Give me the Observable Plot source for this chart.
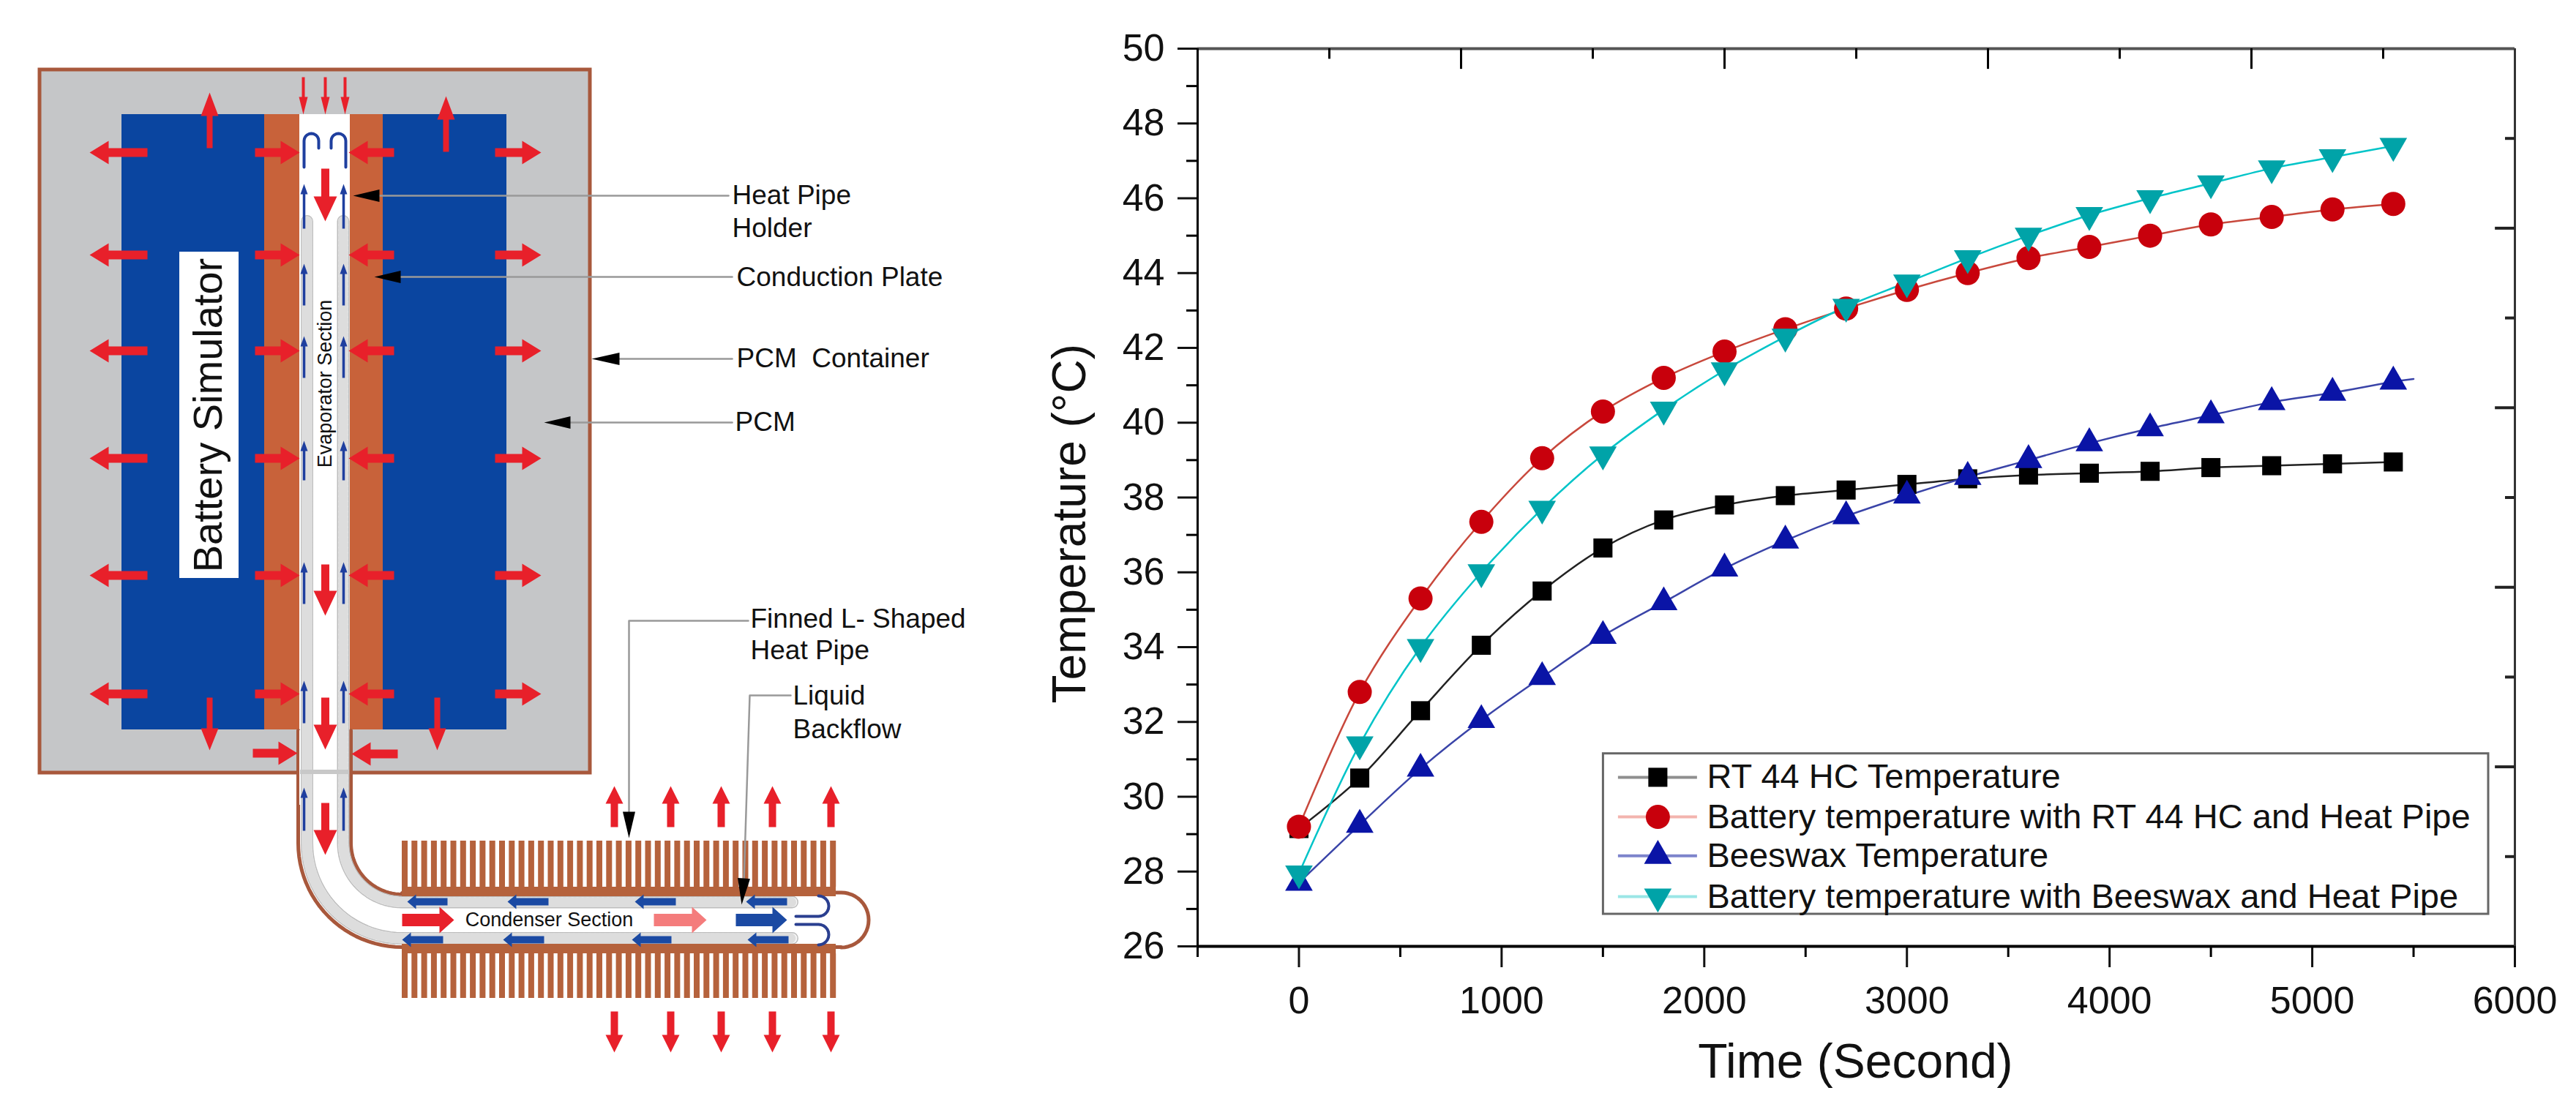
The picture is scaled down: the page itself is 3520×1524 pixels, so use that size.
<!DOCTYPE html>
<html>
<head>
<meta charset="utf-8">
<script src="https://cdn.jsdelivr.net/npm/d3@7"></script>
<script src="https://cdn.jsdelivr.net/npm/@observablehq/plot@0.6"></script>
<style>
html,body{margin:0;padding:0;background:#fff;width:3520px;height:1524px;overflow:hidden}
#page{position:relative;width:3520px;height:1524px}
#page svg{position:absolute;top:0;overflow:visible}
</style>
</head>
<body>
<div id="page"></div>
<script>
// ---------- chart data ----------
const timeSeconds = [0,300,600,900,1200,1500,1800,2100,2400,2700,3000,3300,3600,3900,4200,4500,4800,5100,5400];
const rtTemp      = [29.15,30.5,32.3,34.05,35.5,36.65,37.4,37.8,38.05,38.2,38.35,38.5,38.6,38.65,38.7,38.8,38.85,38.9,38.95];
const rtBattery   = [29.2,32.8,35.3,37.35,39.05,40.3,41.2,41.9,42.5,43.05,43.55,44.0,44.4,44.7,45.0,45.3,45.5,45.7,45.85];
const waxTemp     = [27.7,29.25,30.75,32.05,33.2,34.3,35.2,36.1,36.85,37.5,38.05,38.55,39.0,39.45,39.85,40.2,40.55,40.8,41.1];
const waxBattery  = [27.95,31.4,34.0,36.0,37.7,39.15,40.35,41.4,42.3,43.1,43.75,44.4,45.0,45.55,46.0,46.4,46.8,47.1,47.4];
const waxTailTime = [5400,5500];
const waxTailTemp = [41.1,41.17];
const seriesNames = ["RT 44 HC Temperature","Battery temperature with RT 44 HC and Heat Pipe","Beeswax Temperature","Battery temperature with Beeswax and Heat Pipe"];
const xMajorTicks = [0,1000,2000,3000,4000,5000,6000];
const xMinorTicks = [-500,500,1500,2500,3500,4500,5500];
const yMajorTicks = [26,28,30,32,34,36,38,40,42,44,46,48,50];
const yMinorTicks = [27,29,31,33,35,37,39,41,43,45,47,49];
const topMajorTicks = [800,2100,3400,4700];
const topMinorTicks = [150,1450,2750,4050,5350];
const rightMajorTicks = [45.2,40.4,35.6,30.8];
const rightMinorTicks = [47.6,42.8,38,33.2,28.4];

const FONT = "Liberation Sans, Arial, sans-serif";
const triangleDown = {draw(c,size){const y=-Math.sqrt(size/(Math.sqrt(3)*3));c.moveTo(0,-y*2);c.lineTo(-Math.sqrt(3)*y,y);c.lineTo(Math.sqrt(3)*y,y);c.closePath();}};
const styles = [
  {v:rtTemp,     line:"#222222", key:"#8f8f8f", fill:"#000000", symbol:"square",   r:14.7, ly:30.52},
  {v:rtBattery,  line:"#c8483c", key:"#f3b4ae", fill:"#c8000c", symbol:"circle",   r:16.5, ly:29.46},
  {v:waxTemp,    line:"#3a44a8", key:"#7d84cc", fill:"#0a14a6", symbol:"triangle", r:14,   ly:28.42},
  {v:waxBattery, line:"#00c4c8", key:"#9be6e6", fill:"#00a3a8", symbol:triangleDown, r:14, ly:27.33}
];
const tableOf = s => timeSeconds.map((t,i)=>({t,temp:s.v[i]}));
const waxTail = waxTailTime.map((t,i)=>({t,temp:waxTailTemp[i]}));

const chart = Plot.plot({
  width:2120, height:1524,
  marginLeft:236, marginRight:84, marginTop:66, marginBottom:231,
  style:{background:"transparent",fontFamily:FONT},
  x:{domain:[-500,6000]},
  y:{domain:[26,50]},
  marks:[
    Plot.axisX({ticks:xMajorTicks,tickSize:29,tickPadding:26,fontSize:52,label:null,fontFamily:FONT,strokeWidth:3,color:"#111",tickFormat:d=>String(d)}),
    Plot.axisX({ticks:xMinorTicks,tickSize:15,tickFormat:()=>"",label:null,strokeWidth:3}),
    Plot.axisY({ticks:yMajorTicks,tickSize:27,tickPadding:18,fontSize:52,label:null,fontFamily:FONT,strokeWidth:3,color:"#111",tickFormat:d=>String(d)}),
    Plot.axisY({ticks:yMinorTicks,tickSize:15,tickFormat:()=>"",label:null,strokeWidth:3}),
    Plot.ruleY([50],{stroke:"#555",strokeWidth:4}),
    Plot.ruleY([26],{stroke:"#000",strokeWidth:4}),
    Plot.ruleX([-500],{stroke:"#000",strokeWidth:3}),
    Plot.ruleX([6000],{stroke:"#333",strokeWidth:3}),
    Plot.ruleX(topMajorTicks,{y1:50,y2:49.45,stroke:"#000",strokeWidth:3}),
    Plot.ruleX(topMinorTicks,{y1:50,y2:49.72,stroke:"#000",strokeWidth:3}),
    Plot.ruleY(rightMajorTicks,{x1:6000,x2:5903,stroke:"#222",strokeWidth:4}),
    Plot.ruleY(rightMinorTicks,{x1:6000,x2:5953,stroke:"#222",strokeWidth:4}),
    ...styles.map(s=>Plot.line(tableOf(s),{x:"t",y:"temp",stroke:s.line,strokeWidth:2.5,curve:"catmull-rom"})),
    Plot.line(waxTail,{x:"t",y:"temp",stroke:styles[2].line,strokeWidth:2.5}),
    ...styles.map(s=>Plot.dot(tableOf(s),{x:"t",y:"temp",fill:s.fill,stroke:null,symbol:s.symbol,r:s.r})),
    // legend
    Plot.rect([0],{x1:1502,x2:5870,y1:26.86,y2:31.15,fill:"#fff",stroke:"#666",strokeWidth:3}),
    ...styles.flatMap((s,i)=>[
      Plot.ruleY([s.ly],{x1:1576,x2:1966,stroke:s.key,strokeWidth:4}),
      Plot.dot([0],{x:()=>1771,y:()=>s.ly,fill:s.fill,stroke:null,symbol:s.symbol,r:s.r}),
      Plot.text([seriesNames[i]],{x:()=>2013,y:()=>s.ly,text:d=>d,textAnchor:"start",fontSize:47,fontFamily:FONT,fill:"#111"})
    ]),
    // axis titles
    Plot.text(["Time (Second)"],{x:()=>2746,y:()=>22.9,text:d=>d,fontSize:66,fontFamily:FONT,fill:"#111"}),
    Plot.text(["Temperature (°C)"],{x:()=>-1130,y:()=>37.3,text:d=>d,rotate:-90,fontSize:64,fontFamily:FONT,fill:"#111"})
  ]
});
chart.style.left="1400px";

// ---------- schematic (drawn in its own 1:1 diagram space) ----------
const NAVY="#0a45a0", COPPER="#c8623a", FIN="#b5623c", WALL="#a8583c", RED="#e8202a", WICKBLUE="#1f3f9f", ARROWBLUE="#1b4aa3";

function blockArrow(x1,y1,x2,y2,shaft,head,headLen){
  const L=Math.hypot(x2-x1,y2-y1),ux=(x2-x1)/L,uy=(y2-y1)/L,nx=-uy,ny=ux;
  const bx=x2-ux*headLen,by=y2-uy*headLen;
  return [[x1+nx*shaft/2,y1+ny*shaft/2],[bx+nx*shaft/2,by+ny*shaft/2],[bx+nx*head/2,by+ny*head/2],[x2,y2],[bx-nx*head/2,by-ny*head/2],[bx-nx*shaft/2,by-ny*shaft/2],[x1-nx*shaft/2,y1-ny*shaft/2]];
}
function polys(list,fill){
  const pts=list.flatMap((p,id)=>p.map(([x,y])=>({x,y,id})));
  return Plot.line(pts,{x:"x",y:"y",z:"id",fill,stroke:null,curve:"linear-closed"});
}
function path(points,opts){return Plot.line(points,{x:d=>d[0],y:d=>d[1],curve:"linear",strokeLinejoin:"round",...opts});}
function arc(cx,cy,r,a0,a1,n=24){return d3.range(n+1).map(i=>{const a=(a0+(a1-a0)*i/n)*Math.PI/180;return [cx+r*Math.cos(a),cy+r*Math.sin(a)];});}

const sideRows=[208,348,479,626,786,948];
const redArrows=[
  ...sideRows.flatMap(y=>[
    blockArrow(201,y,122,y,12,32,26),
    blockArrow(348,y,409,y,12,32,26),
    blockArrow(538,y,476,y,12,32,26),
    blockArrow(676,y,739,y,12,32,26)]),
  blockArrow(345,1029,406,1029,12,32,26),
  blockArrow(543,1030,480,1030,12,32,26),
  blockArrow(286,202,286,126,8,24,32),
  blockArrow(609,207,609,131,8,24,32),
  blockArrow(286,953,286,1025,8,24,30),
  blockArrow(597,953,597,1025,8,24,30),
  blockArrow(444,230,444,302,11,32,34),
  blockArrow(444,771,444,841,11,32,34),
  blockArrow(444,953,444,1024,11,32,34),
  blockArrow(444,1097,444,1168,11,32,34),
  ...[839,916,985,1055,1135].flatMap(x=>[
    blockArrow(x,1130,x,1074,10,24,24),
    blockArrow(x,1382,x,1438,10,24,24)]),
  blockArrow(549,1257,620,1257,17,36,20)
];
const thinRed=[414,444,471].map(x=>blockArrow(x,105,x,156,4,12,24));
const wickArrows=[[251,312],[360,417],[459,516],[602,656],[768,825],[930,988],[1076,1135]]
  .flatMap(([a,b])=>[blockArrow(415,b,415,a,3.5,10,14),blockArrow(469,b,469,a,3.5,10,14)]);
const flowArrows=[
  ...[[611,556],[749,693],[923,867],[1075,1019]].map(([a,b])=>blockArrow(a,1232,b,1232,10,20,12)),
  ...[[605,549],[743,687],[917,863],[1077,1021]].map(([a,b])=>blockArrow(a,1284,b,1284,10,20,12)),
  blockArrow(1005,1257,1075,1257,17,36,20)
];
const pinkArrow=[blockArrow(893,1257,965,1257,17,36,20)];
const leaderHeads=[
  blockArrow(518,267,482,267,0,17,36),
  blockArrow(548,378,511,378,0,17,36),
  blockArrow(846,490,808,490,0,17,38),
  blockArrow(779,577,743,577,0,17,36),
  blockArrow(859,1109,859,1145,0,17,36),
  blockArrow(1016,1200,1013,1236,0,17,36)
];
const leaders=[
  [[995,267],[509,267]],
  [[1000,378],[545,378]],
  [[1000,490],[844,490]],
  [[1000,577],[777,577]],
  [[1022,848],[859,848],[859,1110]],
  [[1080,950],[1024,950],[1016,1205]]
];
const finX=d3.range(549,1142,13.3);
const outerPipe=[[407,998],...arc(549,1152,142,180,90),[1149,1294],...arc(1149,1257,37.5,90,-90),[549,1220],...arc(549,1152,70,90,180),[479,998]];
const wickOuter=[[419,302],[419,1152],...arc(549,1152,130,180,90),[1082,1282]];
const wickInner=[[468.5,302],[468.5,1152],...arc(549,1152,80.5,180,90),[1082,1232.5]];
const labels=[
  ["Heat Pipe",1000,267],["Holder",1000,312],["Conduction Plate",1006,379],["PCM  Container",1006,490],["PCM",1004,577],
  ["Finned L- Shaped",1025,846],["Heat Pipe",1025,889],["Liquid",1083,951],["Backflow",1083,997]
];
const rects=(list,fill,extra={})=>Plot.rect(list,{x1:d=>d[0],x2:d=>d[1],y1:d=>d[2],y2:d=>d[3],fill,...extra});
const wick=p=>[
  path(p,{stroke:"#bdbdbd",strokeWidth:17}),
  path(p,{stroke:"#f6f6f6",strokeWidth:14}),
  path(p,{stroke:"#dddddd",strokeWidth:14,strokeDasharray:"3 4"})
];

const schematic = Plot.plot({
  width:1400,height:1524,margin:0,
  style:{background:"transparent",fontFamily:FONT},
  x:{domain:[0,1400],range:[0,1400],axis:null},
  y:{domain:[0,1524],range:[0,1524],axis:null},
  marks:[
    rects([[54,806,95,1056]],"#c5c6c8",{stroke:WALL,strokeWidth:5}),
    rects([[166,361,156,997],[523,692,156,997]],NAVY),
    rects([[361,409,156,997],[478,523,156,997]],COPPER),
    rects([[409,478,156,998]],"#ffffff"),
    path(outerPipe,{fill:"#fff",stroke:WALL,strokeWidth:5}),
    rects([[409,477,998,1100]],"#fff"),
    ...wick(wickOuter),
    ...wick(wickInner),
    rects([[410,477,1052,1058]],"#c8c8c8"),
    rects([[549,1142,1212,1225],[549,1142,1290,1303]],FIN),
    rects(finX.map(x=>[x,x+8,1149,1212]),FIN),
    rects(finX.map(x=>[x,x+8,1303,1364]),FIN),
    path([[415,228],[415,192],...arc(425,192,10,180,360,10),[435,202]],{stroke:"#1f3f9f",strokeWidth:4}),
    path([[472,228],[472,192],...arc(462,192,10,0,-180,10),[452,202]],{stroke:"#1f3f9f",strokeWidth:4}),
    path([[1087,1252],[1118,1252],...arc(1118,1238,14,90,-90,12)],{stroke:"#2a3f90",strokeWidth:4}),
    path([[1087,1263],[1118,1263],...arc(1118,1277,14,-90,90,12)],{stroke:"#2a3f90",strokeWidth:4}),
    polys(redArrows,RED),
    polys(thinRed,RED),
    polys(wickArrows,WICKBLUE),
    polys(flowArrows,ARROWBLUE),
    polys(pinkArrow,"#f47c7c"),
    ...leaders.map(l=>path(l,{stroke:"#999",strokeWidth:2.5})),
    polys(leaderHeads,"#000"),
    rects([[245,326,344,790]],"#fff"),
    Plot.text(["Battery Simulator"],{x:()=>285,y:()=>567,text:d=>d,rotate:-90,fontSize:56,fontFamily:FONT,fill:"#111"}),
    Plot.text(["Evaporator Section"],{x:()=>444,y:()=>524,text:d=>d,rotate:-90,fontSize:27,fontFamily:FONT,fill:"#111"}),
    Plot.text(["Condenser Section"],{x:()=>750,y:()=>1257,text:d=>d,fontSize:27,fontFamily:FONT,fill:"#111"}),
    Plot.text(labels,{x:d=>d[1],y:d=>d[2],text:d=>d[0],textAnchor:"start",fontSize:37,fontFamily:FONT,fill:"#111"})
  ]
});
schematic.style.left="0px";

const page=document.getElementById("page");
page.appendChild(schematic);
page.appendChild(chart);
</script>
</body>
</html>
